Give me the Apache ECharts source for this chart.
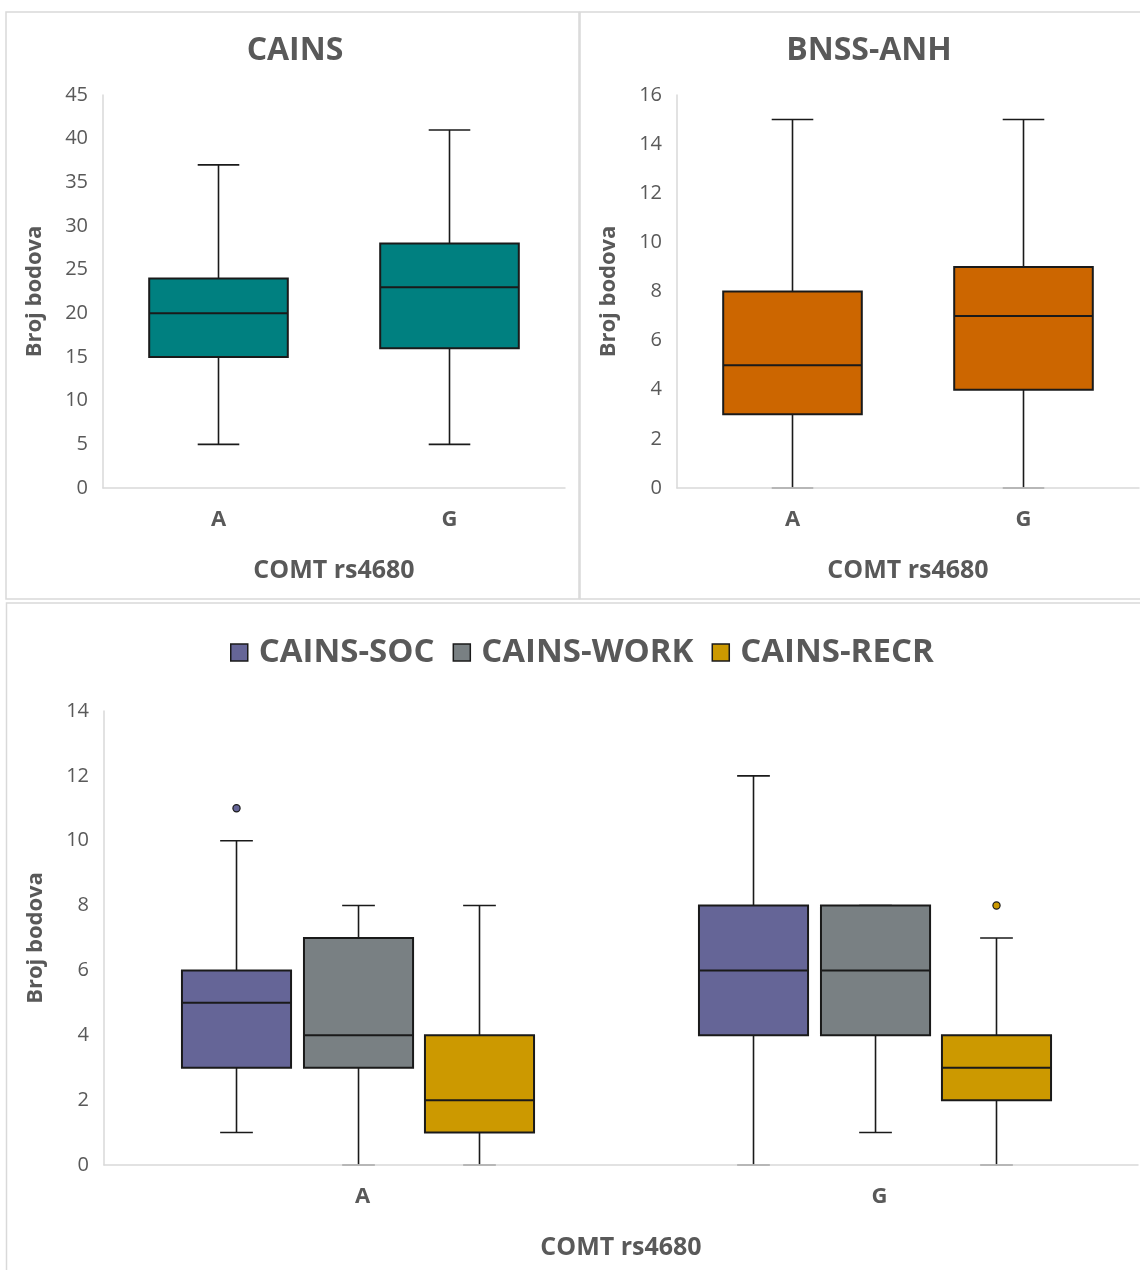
<!DOCTYPE html>
<html>
<head>
<meta charset="utf-8">
<script src="https://cdn.jsdelivr.net/npm/echarts@6/dist/echarts.min.js"></script>
<style>
html,body{margin:0;padding:0;background:#fff;}
#chart{width:1140px;height:1270px;}
</style>
</head>
<body>
<div id="chart"></div>
<script>
// ---- data ----
const categories = ['A', 'G'];
// [min, Q1, median, Q3, max] per category
const cainsBox = [[5, 15, 20, 24, 37], [5, 16, 23, 28, 41]];
const bnssBox = [[0, 3, 5, 8, 15], [0, 4, 7, 9, 15]];
const socBox = [[1, 3, 5, 6, 10], [0, 4, 6, 8, 12]];
const workBox = [[0, 3, 4, 7, 8], [1, 4, 6, 8, 8]];
const recrBox = [[0, 1, 2, 4, 8], [0, 2, 3, 4, 7]];
// outliers: [category index, value]
const socOutliers = [[0, 11]];
const workOutliers = [];
const recrOutliers = [[1, 8]];
const seriesNames = ['CAINS-SOC', 'CAINS-WORK', 'CAINS-RECR'];
const cainsTicks = [0, 45, 5];
const bnssTicks = [0, 16, 2];
const subTicks = [0, 14, 2];

// ---- styles ----
const FONT = 'Open Sans';
const TXT = '#595959';
const AXIS = '#d9d9d9';
const EDGE = '#1a1a1a';
const colors = {
  cains: '#008080', bnss: '#cc6600',
  soc: '#656597', work: '#798083', recr: '#cc9900'
};

function toItems(box) {
  return box.map((b, i) => [i].concat(b));
}

function boxRender(widthFrac, offsetFrac, capFrac, color) {
  return function (params, api) {
    const c = api.value(0);
    const band = api.size([1, 0])[0];
    const cx = api.coord([c, 0])[0] + offsetFrac * band;
    const w = widthFrac * band;
    const y = i => api.coord([c, api.value(i)])[1];
    const yMin = y(1), yQ1 = y(2), yMed = y(3), yQ3 = y(4), yMax = y(5);
    const cap = w * capFrac;
    const ls = { stroke: EDGE, lineWidth: 1.6, fill: null };
    return {
      type: 'group',
      children: [
        { type: 'line', shape: { x1: cx, y1: yQ3, x2: cx, y2: yMax }, style: ls },
        { type: 'line', shape: { x1: cx, y1: yQ1, x2: cx, y2: yMin }, style: ls },
        { type: 'line', shape: { x1: cx - cap / 2, y1: yMax, x2: cx + cap / 2, y2: yMax }, style: ls },
        { type: 'line', shape: { x1: cx - cap / 2, y1: yMin, x2: cx + cap / 2, y2: yMin }, style: ls },
        { type: 'rect', shape: { x: cx - w / 2, y: yQ3, width: w, height: yQ1 - yQ3 },
          style: { fill: color, stroke: EDGE, lineWidth: 2 } },
        { type: 'line', shape: { x1: cx - w / 2, y1: yMed, x2: cx + w / 2, y2: yMed },
          style: { stroke: EDGE, lineWidth: 2 } }
      ]
    };
  };
}

function outlierRender(offsetFrac, color) {
  return function (params, api) {
    const c = api.value(0);
    const band = api.size([1, 0])[0];
    const p = api.coord([c, api.value(1)]);
    return {
      type: 'circle',
      shape: { cx: p[0] + offsetFrac * band, cy: p[1], r: 3.6 },
      style: { fill: color, stroke: EDGE, lineWidth: 1.2 }
    };
  };
}

function xAx(gridIndex, labelMargin, nameGap) {
  return {
    type: 'category', gridIndex, data: categories, z: 5,
    axisLine: { lineStyle: { color: AXIS, width: 1.5 } },
    axisTick: { show: false },
    axisLabel: { color: TXT, fontFamily: FONT, fontWeight: 'bold', fontSize: 22, margin: labelMargin },
    name: 'COMT rs4680', nameLocation: 'middle', nameGap, nameMoveOverlap: false,
    nameTextStyle: { color: TXT, fontFamily: FONT, fontWeight: 'bold', fontSize: 25 }
  };
}
function yAx(gridIndex, ticks, nameGap) {
  return {
    type: 'value', gridIndex, min: ticks[0], max: ticks[1], interval: ticks[2],
    axisLine: { show: true, lineStyle: { color: AXIS, width: 1.5 } },
    axisTick: { show: false },
    splitLine: { show: false },
    axisLabel: { color: TXT, fontFamily: FONT, fontSize: 20, margin: 15 },
    name: 'Broj bodova', nameLocation: 'middle', nameGap, nameMoveOverlap: false,
    nameTextStyle: { color: TXT, fontFamily: FONT, fontWeight: 'bold', fontSize: 22 }
  };
}

const TOPW = 0.60, SUBW = 0.211, CAP = 0.3;
const OFF_SOC = -0.2437, OFF_WORK = -0.0077, OFF_RECR = 0.2263;

const option = {
  animation: false,
  backgroundColor: '#fff',
  textStyle: { fontFamily: FONT },
  graphic: [
    { type: 'rect', shape: { x: 6, y: 12, width: 573, height: 587 }, style: { fill: null, stroke: AXIS, lineWidth: 1.5 }, silent: true },
    { type: 'rect', shape: { x: 580, y: 12, width: 580, height: 587 }, style: { fill: null, stroke: AXIS, lineWidth: 1.5 }, silent: true },
    { type: 'rect', shape: { x: 6.5, y: 603, width: 1150, height: 700 }, style: { fill: null, stroke: AXIS, lineWidth: 1.5 }, silent: true }
  ],
  title: [
    { text: 'CAINS', left: 290, top: 30, textAlign: 'center',
      textStyle: { color: TXT, fontFamily: FONT, fontWeight: 'bold', fontSize: 32 } },
    { text: 'BNSS-ANH', left: 864, top: 30, textAlign: 'center',
      textStyle: { color: TXT, fontFamily: FONT, fontWeight: 'bold', fontSize: 32 } }
  ],
  legend: {
    data: seriesNames.map(n => ({ name: n, icon: 'rect' })),
    left: 230, top: 636, padding: 0,
    itemWidth: 17, itemHeight: 17, itemGap: 18,
    itemStyle: { borderColor: EDGE, borderWidth: 1.5 },
    textStyle: { color: TXT, fontFamily: FONT, fontWeight: 'bold', fontSize: 33, padding: [0, 0, 0, 6] },
    selectedMode: false
  },
  grid: [
    { left: 103, top: 95, width: 462, height: 393 },
    { left: 677, top: 95, width: 462, height: 393 },
    { left: 104, top: 711, width: 1034, height: 454 }
  ],
  xAxis: [xAx(0, 21, 70), xAx(1, 21, 70), xAx(2, 21, 70)],
  yAxis: [yAx(0, cainsTicks, 57), yAx(1, bnssTicks, 57), yAx(2, subTicks, 57)],
  series: [
    { type: 'custom', name: 'CAINS', xAxisIndex: 0, yAxisIndex: 0,
      renderItem: boxRender(TOPW, 0, CAP, colors.cains),
      encode: { x: 0, y: [1, 2, 3, 4, 5] }, data: toItems(cainsBox), itemStyle: { color: colors.cains } },
    { type: 'custom', name: 'BNSS-ANH', xAxisIndex: 1, yAxisIndex: 1,
      renderItem: boxRender(TOPW, 0, CAP, colors.bnss),
      encode: { x: 0, y: [1, 2, 3, 4, 5] }, data: toItems(bnssBox), itemStyle: { color: colors.bnss } },
    { type: 'custom', name: seriesNames[0], xAxisIndex: 2, yAxisIndex: 2,
      renderItem: boxRender(SUBW, OFF_SOC, CAP, colors.soc),
      encode: { x: 0, y: [1, 2, 3, 4, 5] }, data: toItems(socBox), itemStyle: { color: colors.soc } },
    { type: 'custom', name: seriesNames[1], xAxisIndex: 2, yAxisIndex: 2,
      renderItem: boxRender(SUBW, OFF_WORK, CAP, colors.work),
      encode: { x: 0, y: [1, 2, 3, 4, 5] }, data: toItems(workBox), itemStyle: { color: colors.work } },
    { type: 'custom', name: seriesNames[2], xAxisIndex: 2, yAxisIndex: 2,
      renderItem: boxRender(SUBW, OFF_RECR, CAP, colors.recr),
      encode: { x: 0, y: [1, 2, 3, 4, 5] }, data: toItems(recrBox), itemStyle: { color: colors.recr } },
    { type: 'custom', name: seriesNames[0], xAxisIndex: 2, yAxisIndex: 2,
      renderItem: outlierRender(OFF_SOC, colors.soc),
      encode: { x: 0, y: 1 }, data: socOutliers, itemStyle: { color: colors.soc } },
    { type: 'custom', name: seriesNames[1], xAxisIndex: 2, yAxisIndex: 2,
      renderItem: outlierRender(OFF_WORK, colors.work),
      encode: { x: 0, y: 1 }, data: workOutliers, itemStyle: { color: colors.work } },
    { type: 'custom', name: seriesNames[2], xAxisIndex: 2, yAxisIndex: 2,
      renderItem: outlierRender(OFF_RECR, colors.recr),
      encode: { x: 0, y: 1 }, data: recrOutliers, itemStyle: { color: colors.recr } }
  ]
};

const chart = echarts.init(document.getElementById('chart'), null, { renderer: 'canvas' });
chart.setOption(option);
</script>
</body>
</html>
